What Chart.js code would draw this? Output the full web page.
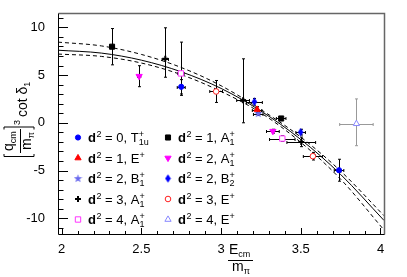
<!DOCTYPE html>
<html>
<head>
<meta charset="utf-8">
<script src="https://cdn.jsdelivr.net/npm/chart.js@4.4.1/dist/chart.umd.min.js"></script>
<style>
  html, body { margin: 0; padding: 0; background: #fff; }
  #c { display: block; }
</style>
</head>
<body>
<canvas id="c" width="407" height="277"></canvas>
<script>
// lattice levels: [E/m, value, xErr, yErrDown, yErrUp]
const d0T1u = [[2.75, 3.77, 0.025, 0.75, 0.75], [3.74, -4.97, 0.03, 1.15, 1.15]];
const d1A1 = [[2.316, 7.97, 0.015, 1.9, 1.9], [3.377, 0.45, 0.03, 0.2, 0.2]];
const d1E = [[3.226, 1.39, 0.03, 0.3, 0.3]];
const d2A1 = [[2.486, 4.88, 0.01, 1.1, 1.1], [3.325, -0.88, 0.04, 0.2, 0.2]];
const d2B1 = [[3.233, 0.97, 0.03, 0.2, 0.2]];
const d2B2 = [[3.209, 2.2, 0.05, 0.35, 0.35], [3.499, -0.98, 0.03, 0.3, 0.3]];
const d3A1 = [[2.65, 6.7, 0.02, 1.93, 3.25], [3.138, 2.37, 0.04, 2.37, 4.33], [3.503, -2.0, 0.09, 0.5, 0.5]];
const d3E = [[2.969, 3.28, 0.04, 1.15, 1.15], [3.576, -3.5, 0.06, 0.4, 0.4]];
const d4A1 = [[2.748, 5.17, 0.02, 2.3, 3.28], [3.384, -1.65, 0.08, 0.3, 0.3]];
const d4E = [[3.849, -0.1, 0.105, 2.3, 2.6]];

// fit curve and its error band
const fitE = [1.977, 2.25, 2.5, 2.75, 3.0, 3.25, 3.5, 3.75, 4.022];
const fitMid = [7.60, 7.30, 6.56, 5.34, 3.60, 1.23, -1.75, -5.41, -10.23];
const fitHigh = [8.45, 8.05, 7.16, 5.79, 3.88, 1.38, -1.50, -5.06, -9.73];
const fitLow = [7.20, 6.95, 6.26, 5.04, 3.28, 1.03, -2.05, -5.91, -11.23];

// axes
const xTicks = [2, 2.5, 3, 3.5, 4];
const yTicks = [-10, -5, 0, 5, 10];

const FONT = '"Liberation Sans", Arial, sans-serif';
Chart.defaults.font.family = FONT;
Chart.defaults.color = '#000';

// small marker images for shapes Chart.js doesn't have
function starImg(color) {
    const c = document.createElement('canvas');
    c.width = c.height = 9;
    const g = c.getContext('2d');
    g.fillStyle = color;
    g.beginPath();
    for (let i = 0; i < 10; i++) {
        const a = -Math.PI / 2 + i * Math.PI / 5;
        const r = i % 2 ? 1.8 : 4.4;
        g.lineTo(4.5 + r * Math.cos(a), 4.7 + r * Math.sin(a));
    }
    g.closePath();
    g.fill();
    return c;
}

function diamondImg(color) {
    const c = document.createElement('canvas');
    c.width = 7;
    c.height = 9;
    const g = c.getContext('2d');
    g.fillStyle = color;
    g.beginPath();
    g.moveTo(3.5, 0.3);
    g.lineTo(6.3, 4.5);
    g.lineTo(3.5, 8.7);
    g.lineTo(0.7, 4.5);
    g.closePath();
    g.fill();
    return c;
}

const series = [
    { pts: d0T1u, d: '0', irrep: 'T', sub: '1u', style: 'circle', r: 2.6, color: '#0000ff', fill: '#0000ff' },
    { pts: d1E, d: '1', irrep: 'E', sub: '', style: 'triangle', r: 3.6, color: '#ff0000', fill: '#ff0000' },
    { pts: d2B1, d: '2', irrep: 'B', sub: '1', style: starImg('#6a6aee'), r: 4, color: '#6a6aee', fill: '#6a6aee' },
    { pts: d3A1, d: '3', irrep: 'A', sub: '1', style: 'cross', r: 3, color: '#000', fill: '#000', bw: 2 },
    { pts: d4A1, d: '4', irrep: 'A', sub: '1', style: 'rect', r: 3.8, color: '#ff33ff', fill: '#fff' },
    { pts: d1A1, d: '1', irrep: 'A', sub: '1', style: 'rect', r: 3.6, color: '#000', fill: '#000' },
    { pts: d2A1, d: '2', irrep: 'A', sub: '1', style: 'triangle', r: 3.6, rot: 180, color: '#ff00ff', fill: '#ff00ff' },
    { pts: d2B2, d: '2', irrep: 'B', sub: '2', style: diamondImg('#0000ff'), r: 4, color: '#0000ff', fill: '#0000ff' },
    { pts: d3E, d: '3', irrep: 'E', sub: '', style: 'circle', r: 2.8, color: '#ff2020', fill: '#fff' },
    { pts: d4E, d: '4', irrep: 'E', sub: '', style: 'triangle', r: 3.6, color: '#8888ff', fill: '#fff', bar: '#999' }
];

const datasets = series.map(s => ({
    type: 'scatter',
    data: s.pts.map(p => ({ x: p[0], y: p[1] })),
    errs: s.pts,
    barColor: s.bar || '#000',
    pointStyle: s.style,
    pointRadius: s.r,
    pointRotation: s.rot || 0,
    pointBackgroundColor: s.fill,
    pointBorderColor: s.color,
    pointBorderWidth: s.bw || 1
}));

function fitLine(vals, dash) {
    return {
        type: 'line',
        data: fitE.map((e, i) => ({ x: e, y: vals[i] })),
        borderColor: '#000',
        borderWidth: 1,
        borderDash: dash,
        pointRadius: 0,
        cubicInterpolationMode: 'monotone',
        fill: false
    };
}
datasets.push(fitLine(fitMid, []), fitLine(fitHigh, [4, 3]), fitLine(fitLow, [4, 3]));

// error bars under the markers
const errorBars = {
    id: 'errorBars',
    beforeDatasetsDraw(chart) {
        const { ctx, scales: { x, y } } = chart;
        ctx.save();
        ctx.lineWidth = 1;
        chart.data.datasets.forEach(ds => {
            if (!ds.errs) return;
            ctx.strokeStyle = ds.barColor;
            ds.errs.forEach(([ex, ey, dx, lo, hi]) => {
                const px = Math.round(x.getPixelForValue(ex)) + 0.5;
                const py = Math.round(y.getPixelForValue(ey)) + 0.5;
                const x0 = x.getPixelForValue(ex - dx), x1 = x.getPixelForValue(ex + dx);
                const y0 = y.getPixelForValue(ey - lo), y1 = y.getPixelForValue(ey + hi);
                ctx.beginPath();
                ctx.moveTo(px, y0); ctx.lineTo(px, y1);
                ctx.moveTo(px - 1.5, y0); ctx.lineTo(px + 1.5, y0);
                ctx.moveTo(px - 1.5, y1); ctx.lineTo(px + 1.5, y1);
                ctx.moveTo(x0, py); ctx.lineTo(x1, py);
                ctx.moveTo(x0, py - 1.5); ctx.lineTo(x0, py + 1.5);
                ctx.moveTo(x1, py - 1.5); ctx.lineTo(x1, py + 1.5);
                ctx.stroke();
            });
        });
        ctx.restore();
    }
};

function legendText(ctx, x, y, s) {
    ctx.font = 'bold 13px ' + FONT;
    ctx.fillText('d', x, y);
    x += ctx.measureText('d').width + 0.5;
    ctx.font = '9px ' + FONT;
    ctx.fillText('2', x, y - 5);
    x += ctx.measureText('2').width;
    ctx.font = '13px ' + FONT;
    const t = ' = ' + s.d + ', ' + s.irrep;
    ctx.fillText(t, x, y);
    x += ctx.measureText(t).width;
    ctx.font = '9px ' + FONT;
    ctx.fillText('+', x, y - 5);
    if (s.sub) ctx.fillText(s.sub, x, y + 3);
}

function drawYTitle(ctx) {
    ctx.save();
    ctx.translate(0, 158);
    ctx.rotate(-Math.PI / 2);
    ctx.lineWidth = 1;
    ctx.beginPath();
    ctx.moveTo(4, 4); ctx.lineTo(1.5, 4); ctx.lineTo(1.5, 34); ctx.lineTo(4, 34);
    ctx.stroke();
    ctx.font = '14px ' + FONT;
    ctx.fillText('q', 7, 13);
    let w = ctx.measureText('q').width;
    ctx.font = '9px ' + FONT;
    ctx.fillText('cm', 7 + w, 16);
    ctx.beginPath();
    ctx.moveTo(5, 20.5); ctx.lineTo(29, 20.5);
    ctx.stroke();
    ctx.font = '14px ' + FONT;
    ctx.fillText('m', 8, 31);
    w = ctx.measureText('m').width;
    ctx.font = '9px ' + FONT;
    ctx.fillText('\u03c0', 8 + w, 34);
    ctx.beginPath();
    ctx.moveTo(28.5, 4); ctx.lineTo(31, 4); ctx.lineTo(31, 34); ctx.lineTo(28.5, 34);
    ctx.stroke();
    ctx.font = '9px ' + FONT;
    ctx.fillText('3', 33, 20);
    ctx.font = '14px ' + FONT;
    ctx.fillText('cot \u03b4', 41, 27);
    w = ctx.measureText('cot \u03b4').width;
    ctx.font = '9px ' + FONT;
    ctx.fillText('1', 41 + w, 30);
    ctx.restore();
}

function drawXTitle(ctx) {
    ctx.save();
    ctx.lineWidth = 1;
    ctx.font = '14px ' + FONT;
    ctx.fillText('E', 229, 254);
    let w = ctx.measureText('E').width;
    ctx.font = '9px ' + FONT;
    ctx.fillText('cm', 229 + w, 257);
    ctx.beginPath();
    ctx.moveTo(228, 260.5); ctx.lineTo(253, 260.5);
    ctx.stroke();
    ctx.font = '14px ' + FONT;
    ctx.fillText('m', 232, 271);
    w = ctx.measureText('m').width;
    ctx.font = '9px ' + FONT;
    ctx.fillText('\u03c0', 232 + w, 274);
    ctx.restore();
}

// ROOT style frame, inward ticks, titles and legend
const decorations = {
    id: 'decorations',
    afterDraw(chart) {
        const { ctx, chartArea: a, scales: { x, y } } = chart;
        ctx.save();
        ctx.fillStyle = '#000';
        ctx.strokeStyle = '#000';
        ctx.lineWidth = 1;
        const L = Math.round(a.left) + 0.5, R = Math.round(a.right) + 0.5;
        const T = Math.round(a.top) + 0.5, B = Math.round(a.bottom) + 0.5;

        ctx.strokeStyle = '#666';
        ctx.lineWidth = 1.5;
        ctx.beginPath();
        ctx.moveTo(L, T); ctx.lineTo(R, T); ctx.lineTo(R, B);
        ctx.stroke();

        ctx.strokeStyle = '#000';
        ctx.lineWidth = 1;
        ctx.beginPath();
        ctx.moveTo(L, T); ctx.lineTo(L, B); ctx.lineTo(R, B);
        // y ticks
        for (let v = Math.ceil(y.min); v <= Math.floor(y.max); v++) {
            const py = Math.round(y.getPixelForValue(v)) + 0.5;
            const len = yTicks.includes(v) ? 9.5 : 5;
            ctx.moveTo(L, py); ctx.lineTo(L + len, py);
        }
        // x ticks
        for (let i = Math.ceil(x.min * 10); i <= Math.floor(x.max * 10); i++) {
            const v = i / 10;
            const px = Math.round(x.getPixelForValue(v)) + 0.5;
            const len = xTicks.some(t => Math.abs(t - v) < 1e-6) ? 6.5 : 3.5;
            ctx.moveTo(px, B); ctx.lineTo(px, B - len);
        }
        ctx.stroke();

        drawYTitle(ctx);
        drawXTitle(ctx);

        // legend, two columns
        const rows = [137.5, 158, 178.5, 199, 219.5];
        series.forEach((s, i) => {
            const col = Math.floor(i / 5);
            const mx = col ? 168 : 78;
            const my = rows[i % 5];
            ctx.fillStyle = s.fill;
            ctx.strokeStyle = s.color;
            ctx.lineWidth = s.bw || 1;
            Chart.helpers.drawPoint(ctx, { pointStyle: s.style, radius: s.r, rotation: s.rot || 0, borderWidth: s.bw || 1 }, mx, my);
            ctx.fillStyle = '#000';
            legendText(ctx, mx + 10, my + 4.5, s);
        });
        ctx.restore();
    }
};

new Chart(document.getElementById('c'), {
    type: 'scatter',
    data: { datasets },
    options: {
        responsive: false,
        animation: false,
        events: [],
        layout: { padding: { top: 13, right: 23, left: 0, bottom: 0 } },
        plugins: { legend: { display: false }, tooltip: { enabled: false } },
        scales: {
            x: {
                type: 'linear',
                min: 1.977,
                max: 4.022,
                grid: { display: false },
                border: { display: false },
                afterBuildTicks: s => { s.ticks = xTicks.map(v => ({ value: v })); },
                afterFit: s => { s.height = 43; },
                ticks: { font: { size: 13 }, padding: 0, maxRotation: 0, callback: v => String(v) }
            },
            y: {
                type: 'linear',
                min: -11.65,
                max: 11.5,
                grid: { display: false },
                border: { display: false },
                afterBuildTicks: s => { s.ticks = yTicks.map(v => ({ value: v })); },
                afterFit: s => { s.width = 58; },
                ticks: { font: { size: 13 }, padding: 5 }
            }
        }
    },
    plugins: [errorBars, decorations]
});
</script>
</body>
</html>
